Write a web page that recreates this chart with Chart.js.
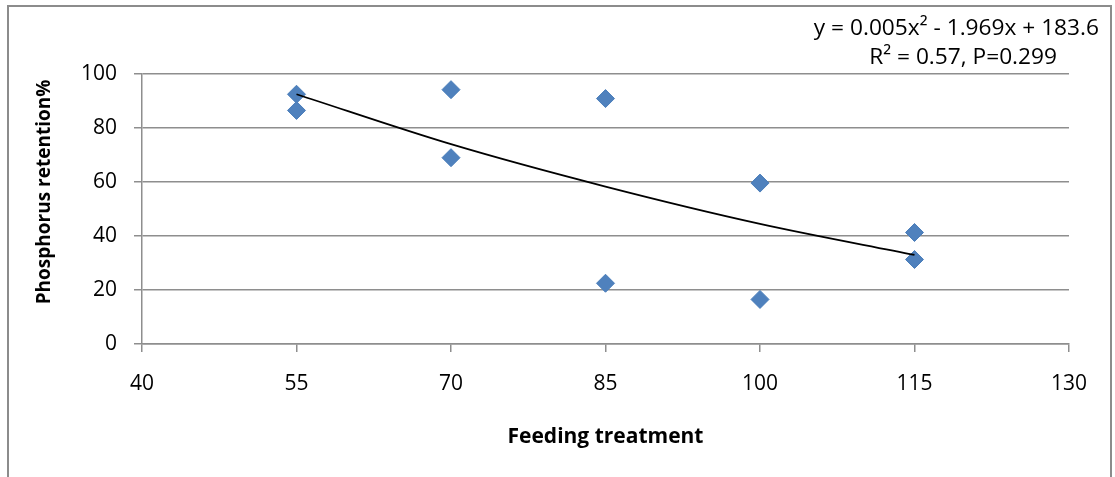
<!DOCTYPE html>
<html>
<head>
<meta charset="utf-8">
<title>Phosphorus retention</title>
<script src="https://cdn.jsdelivr.net/npm/chart.js@4.4.1/dist/chart.umd.min.js"></script>
<style>
    html, body { margin: 0; padding: 0; background: #fff; }
    #wrap { width: 1115px; height: 477px; }
</style>
</head>
<body>
<div id="wrap"><canvas id="retentionChart" width="1115" height="477"></canvas></div>
<script>
// Данные
const feedingX    = [55, 55, 70, 70, 85, 85, 100, 100, 115, 115];
const retentionY  = [92.5, 86.5, 94.2, 69, 90.9, 22.5, 59.6, 16.5, 41.3, 31.3];
const trendX      = [55, 70, 85, 100, 115];
const trendY      = [92.5, 74, 58.3, 44.5, 33];
const xTicks      = [40, 55, 70, 85, 100, 115, 130];
const yTicks      = [0, 20, 40, 60, 80, 100];
const xTitle      = 'Feeding treatment';
const yTitle      = 'Phosphorus retention%';
const equationLines = ['y = 0.005x² - 1.969x + 183.6', 'R² = 0.57, P=0.299'];

const FONT = '"Open Sans"';
const GRID = '#8e8e8e';

document.addEventListener('DOMContentLoaded', () => {
    const ctx = document.getElementById('retentionChart');

    // рамка, заголовок оси Y и уравнение
    const decorPlugin = {
        id: 'decor',
        beforeDraw(chart) {
            const c = chart.ctx;
            c.save();
            c.fillStyle = '#fff';
            c.fillRect(0, 0, chart.width, chart.height);
            c.strokeStyle = '#8c8c8c';
            c.lineWidth = 2;
            c.beginPath();
            c.moveTo(8, 490); c.lineTo(8, 6); c.lineTo(1111, 6); c.lineTo(1111, 490);
            c.stroke();
            c.restore();
        },
        afterDraw(chart) {
            const c = chart.ctx;
            c.save();
            c.fillStyle = '#000';
            c.font = 'bold 19px ' + FONT;
            c.textAlign = 'center';
            c.textBaseline = 'middle';
            c.translate(45, 192);
            c.rotate(-Math.PI / 2);
            c.fillText(yTitle, 0, 0);
            c.restore();

            c.save();
            c.fillStyle = '#000';
            c.font = '22.7px ' + FONT;
            c.textAlign = 'right';
            c.textBaseline = 'middle';
            c.fillText(equationLines[0], 1099, 29);
            c.fillText(equationLines[1], 1057, 58);
            c.restore();
        }
    };

    new Chart(ctx, {
        type: 'scatter',
        data: {
            datasets: [
                {
                    label: 'points',
                    data: feedingX.map((x, i) => ({ x, y: retentionY[i] })),
                    pointStyle: 'rectRot',
                    pointRadius: 9,
                    pointBackgroundColor: '#4F81BD',
                    pointBorderColor: '#4A7EBB',
                    pointBorderWidth: 1,
                    order: 2
                },
                {
                    label: 'trend',
                    type: 'line',
                    data: trendX.map((x, i) => ({ x, y: trendY[i] })),
                    borderColor: '#000',
                    borderWidth: 1.8,
                    pointRadius: 0,
                    fill: false,
                    cubicInterpolationMode: 'monotone',
                    order: 1
                }
            ]
        },
        options: {
            responsive: false,
            animation: false,
            layout: { padding: { left: 0, top: 74, right: 46, bottom: 0 } },
            plugins: { legend: { display: false }, tooltip: { enabled: false } },
            scales: {
                x: {
                    type: 'linear',
                    min: xTicks[0],
                    max: xTicks[xTicks.length - 1],
                    afterBuildTicks: s => { s.ticks = xTicks.map(v => ({ value: v })); },
                    afterFit: s => { s.height = 133; },
                    grid: { drawOnChartArea: false, drawTicks: true, tickLength: 8, color: GRID, lineWidth: 1.5 },
                    border: { color: GRID, width: 1.5 },
                    ticks: { color: '#000', font: { family: FONT, size: 21 }, padding: 19, maxRotation: 0 },
                    title: { display: true, text: xTitle, color: '#000', font: { family: FONT, size: 21, weight: 'bold' }, padding: { bottom: 27 } }
                },
                y: {
                    min: yTicks[0],
                    max: yTicks[yTicks.length - 1],
                    afterBuildTicks: s => { s.ticks = yTicks.map(v => ({ value: v })); },
                    afterFit: s => { s.width = 142; },
                    grid: { drawTicks: true, tickLength: 8, color: GRID, lineWidth: 1.5 },
                    border: { color: GRID, width: 1.5 },
                    ticks: { color: '#000', font: { family: FONT, size: 21 }, padding: 17 }
                }
            }
        },
        plugins: [decorPlugin]
    });
});
</script>
</body>
</html>
